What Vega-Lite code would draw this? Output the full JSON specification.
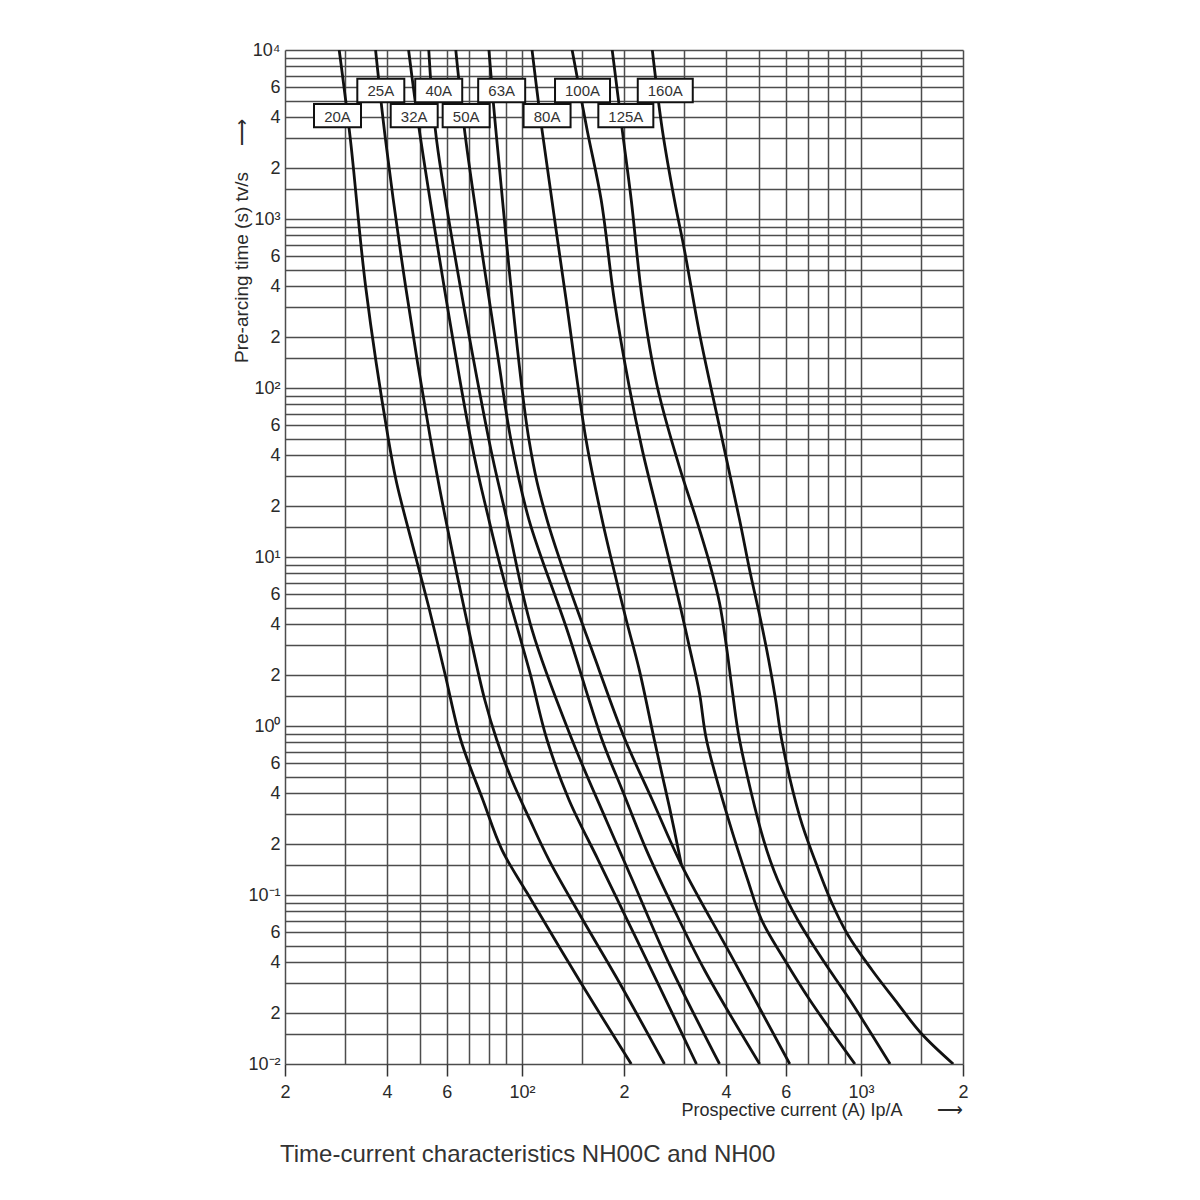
{
  "$schema": "https://vega.github.io/schema/vega-lite/v6.json",
  "width": 678,
  "height": 1014,
  "autosize": {"type": "none"},
  "padding": {"left": 285, "top": 50, "right": 237, "bottom": 136},
  "background": "white",
  "config": {
    "view": {"stroke": null},
    "font": "Liberation Sans",
    "axis": {"labelFont": "Liberation Sans", "titleFont": "Liberation Sans"}
  },
  "title": {
    "text": "Time-current characteristics NH00C and NH00",
    "orient": "bottom",
    "anchor": "start",
    "frame": "group",
    "offset": 24,
    "dx": -5,
    "fontSize": 24,
    "fontWeight": "normal",
    "color": "#333333",
    "font": "Liberation Sans"
  },
  "datasets": {
    "curves": [
      {"fuse": "20A", "current": 28.9, "time": 10000},
      {"fuse": "20A", "current": 31.2, "time": 2931},
      {"fuse": "20A", "current": 34.6, "time": 396},
      {"fuse": "20A", "current": 40.4, "time": 49.2},
      {"fuse": "20A", "current": 42.7, "time": 27.4},
      {"fuse": "20A", "current": 48.6, "time": 10},
      {"fuse": "20A", "current": 53.1, "time": 5.06},
      {"fuse": "20A", "current": 59.2, "time": 2.06},
      {"fuse": "20A", "current": 66.0, "time": 0.826},
      {"fuse": "20A", "current": 76.7, "time": 0.365},
      {"fuse": "20A", "current": 87.3, "time": 0.185},
      {"fuse": "20A", "current": 103.5, "time": 0.103},
      {"fuse": "20A", "current": 147.5, "time": 0.0314},
      {"fuse": "20A", "current": 210.1, "time": 0.01},

      {"fuse": "25A", "current": 37.0, "time": 10000},
      {"fuse": "25A", "current": 39.6, "time": 2931},
      {"fuse": "25A", "current": 45.4, "time": 396},
      {"fuse": "25A", "current": 53.8, "time": 49.2},
      {"fuse": "25A", "current": 59.6, "time": 16.6},
      {"fuse": "25A", "current": 69.7, "time": 3.70},
      {"fuse": "25A", "current": 77.7, "time": 1.425},
      {"fuse": "25A", "current": 84.3, "time": 0.826},
      {"fuse": "25A", "current": 93.4, "time": 0.479},
      {"fuse": "25A", "current": 105.6, "time": 0.278},
      {"fuse": "25A", "current": 120.2, "time": 0.161},
      {"fuse": "25A", "current": 149.5, "time": 0.0741},
      {"fuse": "25A", "current": 189.7, "time": 0.0327},
      {"fuse": "25A", "current": 263.2, "time": 0.01},

      {"fuse": "32A", "current": 46.3, "time": 10000},
      {"fuse": "32A", "current": 50.3, "time": 2931},
      {"fuse": "32A", "current": 70.7, "time": 49.2},
      {"fuse": "32A", "current": 79.9, "time": 16.6},
      {"fuse": "32A", "current": 88.5, "time": 7.31},
      {"fuse": "32A", "current": 97.3, "time": 3.70},
      {"fuse": "32A", "current": 105.6, "time": 2.06},
      {"fuse": "32A", "current": 118.6, "time": 0.826},
      {"fuse": "32A", "current": 137.7, "time": 0.365},
      {"fuse": "32A", "current": 167.9, "time": 0.161},
      {"fuse": "32A", "current": 204.5, "time": 0.0711},
      {"fuse": "32A", "current": 249.1, "time": 0.0314},
      {"fuse": "32A", "current": 327.2, "time": 0.01},

      {"fuse": "40A", "current": 53.1, "time": 10000},
      {"fuse": "40A", "current": 56.0, "time": 2931},
      {"fuse": "40A", "current": 79.9, "time": 49.2},
      {"fuse": "40A", "current": 90.3, "time": 16.6},
      {"fuse": "40A", "current": 107.1, "time": 3.70},
      {"fuse": "40A", "current": 140.6, "time": 0.826},
      {"fuse": "40A", "current": 177.2, "time": 0.278},
      {"fuse": "40A", "current": 211.6, "time": 0.123},
      {"fuse": "40A", "current": 268.5, "time": 0.0412},
      {"fuse": "40A", "current": 382.7, "time": 0.01},

      {"fuse": "50A", "current": 63.8, "time": 10000},
      {"fuse": "50A", "current": 68.3, "time": 2931},
      {"fuse": "50A", "current": 85.5, "time": 140.6},
      {"fuse": "50A", "current": 92.8, "time": 49.2},
      {"fuse": "50A", "current": 104.9, "time": 16.6},
      {"fuse": "50A", "current": 135.9, "time": 3.70},
      {"fuse": "50A", "current": 172.4, "time": 0.826},
      {"fuse": "50A", "current": 197.6, "time": 0.418},
      {"fuse": "50A", "current": 232.8, "time": 0.185},
      {"fuse": "50A", "current": 281.7, "time": 0.0814},
      {"fuse": "50A", "current": 345.5, "time": 0.0360},
      {"fuse": "50A", "current": 502.5, "time": 0.01},

      {"fuse": "63A", "current": 79.9, "time": 10000},
      {"fuse": "63A", "current": 84.3, "time": 2931},
      {"fuse": "63A", "current": 104.9, "time": 49.2},
      {"fuse": "63A", "current": 118.6, "time": 16.6},
      {"fuse": "63A", "current": 169.0, "time": 2.14},
      {"fuse": "63A", "current": 201.7, "time": 0.826},
      {"fuse": "63A", "current": 242.4, "time": 0.365},
      {"fuse": "63A", "current": 295.4, "time": 0.151},
      {"fuse": "63A", "current": 421.0, "time": 0.0412},
      {"fuse": "63A", "current": 616.6, "time": 0.01},

      {"fuse": "80A", "current": 107.1, "time": 10000},
      {"fuse": "80A", "current": 114.6, "time": 3365},
      {"fuse": "80A", "current": 135.0, "time": 332},
      {"fuse": "80A", "current": 154.6, "time": 49.2},
      {"fuse": "80A", "current": 172.4, "time": 16.6},
      {"fuse": "80A", "current": 184.6, "time": 9.21},
      {"fuse": "80A", "current": 203.1, "time": 4.24},
      {"fuse": "80A", "current": 222.0, "time": 2.14},
      {"fuse": "80A", "current": 245.8, "time": 0.826},
      {"fuse": "80A", "current": 272.2, "time": 0.332},
      {"fuse": "80A", "current": 295.4, "time": 0.151},

      {"fuse": "100A", "current": 140.6, "time": 10000},
      {"fuse": "100A", "current": 155.7, "time": 3365},
      {"fuse": "100A", "current": 171.3, "time": 1295},
      {"fuse": "100A", "current": 187.2, "time": 332},
      {"fuse": "100A", "current": 207.3, "time": 101.4},
      {"fuse": "100A", "current": 226.5, "time": 42.9},
      {"fuse": "100A", "current": 254.3, "time": 16.6},
      {"fuse": "100A", "current": 291.4, "time": 5.35},
      {"fuse": "100A", "current": 311.9, "time": 2.93},
      {"fuse": "100A", "current": 333.9, "time": 1.567},
      {"fuse": "100A", "current": 350.3, "time": 0.826},
      {"fuse": "100A", "current": 407.0, "time": 0.278},
      {"fuse": "100A", "current": 463.2, "time": 0.123},
      {"fuse": "100A", "current": 509.5, "time": 0.0711},
      {"fuse": "100A", "current": 595.8, "time": 0.0412},
      {"fuse": "100A", "current": 706.6, "time": 0.0239},
      {"fuse": "100A", "current": 959.9, "time": 0.01},

      {"fuse": "125A", "current": 184.6, "time": 10000},
      {"fuse": "125A", "current": 197.6, "time": 3365},
      {"fuse": "125A", "current": 210.1, "time": 1295},
      {"fuse": "125A", "current": 226.5, "time": 332},
      {"fuse": "125A", "current": 250.9, "time": 101.4},
      {"fuse": "125A", "current": 291.4, "time": 34.1},
      {"fuse": "125A", "current": 327.2, "time": 16.6},
      {"fuse": "125A", "current": 357.5, "time": 9.21},
      {"fuse": "125A", "current": 382.7, "time": 5.35},
      {"fuse": "125A", "current": 401.3, "time": 2.93},
      {"fuse": "125A", "current": 418.2, "time": 1.567},
      {"fuse": "125A", "current": 438.5, "time": 0.826},
      {"fuse": "125A", "current": 516.4, "time": 0.211},
      {"fuse": "125A", "current": 568.1, "time": 0.1227},
      {"fuse": "125A", "current": 651.0, "time": 0.0711},
      {"fuse": "125A", "current": 772.0, "time": 0.0412},
      {"fuse": "125A", "current": 928.0, "time": 0.0239},
      {"fuse": "125A", "current": 1218.6, "time": 0.01},

      {"fuse": "160A", "current": 242.4, "time": 10000},
      {"fuse": "160A", "current": 259.5, "time": 3365},
      {"fuse": "160A", "current": 281.7, "time": 1295},
      {"fuse": "160A", "current": 301.5, "time": 656},
      {"fuse": "160A", "current": 333.9, "time": 211},
      {"fuse": "160A", "current": 382.7, "time": 58.7},
      {"fuse": "160A", "current": 438.5, "time": 16.6},
      {"fuse": "160A", "current": 469.5, "time": 8.38},
      {"fuse": "160A", "current": 506.0, "time": 4.24},
      {"fuse": "160A", "current": 534.3, "time": 2.46},
      {"fuse": "160A", "current": 560.4, "time": 1.425},
      {"fuse": "160A", "current": 583.8, "time": 0.826},
      {"fuse": "160A", "current": 660.1, "time": 0.290},
      {"fuse": "160A", "current": 731.1, "time": 0.161},
      {"fuse": "160A", "current": 820.6, "time": 0.0897},
      {"fuse": "160A", "current": 915.4, "time": 0.0580},
      {"fuse": "160A", "current": 1077.7, "time": 0.0360},
      {"fuse": "160A", "current": 1260.6, "time": 0.0239},
      {"fuse": "160A", "current": 1504.7, "time": 0.0152},
      {"fuse": "160A", "current": 1871.6, "time": 0.01}
    ],
    "labels": [
      {"label": "20A", "current": 28.57, "time": 4086},
      {"label": "25A", "current": 38.34, "time": 5760},
      {"label": "32A", "current": 48.10, "time": 4086},
      {"label": "40A", "current": 56.82, "time": 5760},
      {"label": "50A", "current": 68.46, "time": 4086},
      {"label": "63A", "current": 87.14, "time": 5760},
      {"label": "80A", "current": 118.6, "time": 4086},
      {"label": "100A", "current": 150.9, "time": 5760},
      {"label": "125A", "current": 202.5, "time": 4086},
      {"label": "160A", "current": 264.7, "time": 5760}
    ]
  },
  "layer": [
    {
      "data": {"name": "curves"},
      "mark": {"type": "line", "color": "#111111", "strokeWidth": 2.8, "interpolate": "catmull-rom", "clip": true},
      "encoding": {
        "x": {
          "field": "current", "type": "quantitative",
          "scale": {"type": "log", "domain": [20, 2000], "nice": false},
          "axis": {
            "orient": "bottom",
            "values": [20,30,40,50,60,70,80,90,100,150,200,300,400,500,600,700,800,900,1000,1500,2000],
            "grid": true, "gridColor": "#4d4d4d", "gridWidth": 1.5,
            "domain": false,
            "ticks": true, "tickSize": 12, "tickColor": "#333333", "tickWidth": 1.5,
            "tickOpacity": {"condition": {"test": "indexof([20,40,60,100,200,400,600,1000,2000], datum.value) >= 0", "value": 1}, "value": 0},
            "labelExpr": "indexof([20,40,60,100,200,400,600,1000,2000], datum.value) < 0 ? '' : datum.value == 100 ? '10²' : datum.value == 1000 ? '10³' : format(datum.value / pow(10, floor(log(datum.value) / LN10 + 0.001)), '.0f')",
            "labelFontSize": 18, "labelColor": "#2a2a2a", "labelPadding": 7,
            "labelFlush": false, "labelOverlap": false, "labelBound": false,
            "title": "Prospective current (A) Ip/A\u00a0\u00a0\u00a0\u00a0\u00a0\u00a0\u00a0⟶",
            "titleX": 678, "titleY": 51, "titleAnchor": "end", "titleAlign": "right", "titleBaseline": "alphabetic",
            "titleFontSize": 18, "titleFontWeight": "normal", "titleColor": "#2a2a2a"
          }
        },
        "y": {
          "field": "time", "type": "quantitative",
          "scale": {"type": "log", "domain": [0.01, 10000], "nice": false},
          "axis": {
            "orient": "left",
            "values": [0.01,0.015,0.02,0.03,0.04,0.05,0.06,0.07,0.08,0.09,0.1,0.15,0.2,0.3,0.4,0.5,0.6,0.7,0.8,0.9,1,1.5,2,3,4,5,6,7,8,9,10,15,20,30,40,50,60,70,80,90,100,150,200,300,400,500,600,700,800,900,1000,1500,2000,3000,4000,5000,6000,7000,8000,9000,10000],
            "grid": true, "gridColor": "#4d4d4d", "gridWidth": 1.5,
            "domain": false, "ticks": false,
            "labelExpr": "indexof([0.01,0.02,0.04,0.06,0.1,0.2,0.4,0.6,1,2,4,6,10,20,40,60,100,200,400,600,1000,2000,4000,6000,10000], datum.value) < 0 ? '' : (abs(log(datum.value) / LN10 - round(log(datum.value) / LN10)) < 0.001 ? '10' + ['⁻²','⁻¹','⁰','¹','²','³','⁴'][round(log(datum.value) / LN10) + 2] : format(datum.value / pow(10, floor(log(datum.value) / LN10 + 0.001)), '.0f'))",
            "labelFontSize": 18, "labelColor": "#2a2a2a", "labelPadding": 5,
            "labelFlush": false, "labelOverlap": false, "labelBound": false,
            "title": "Pre-arcing time (s) tv/s\u00a0\u00a0\u00a0\u00a0\u00a0⟶",
            "titleX": -44, "titleY": 68, "titleAngle": -90, "titleAlign": "right", "titleBaseline": "middle",
            "titleFontSize": 19, "titleFontWeight": "normal", "titleColor": "#2a2a2a"
          }
        },
        "detail": {"field": "fuse"},
        "order": {"field": "time", "sort": "descending"}
      }
    },
    {
      "data": {"name": "labels"},
      "transform": [{"filter": "length(datum.label) == 3"}],
      "mark": {"type": "point", "shape": "M-1,-0.496H1V0.496H-1Z", "size": 2209, "filled": true, "fill": "white", "stroke": "#111111", "strokeWidth": 2, "opacity": 1},
      "encoding": {
        "x": {"field": "current", "type": "quantitative"},
        "y": {"field": "time", "type": "quantitative"}
      }
    },
    {
      "data": {"name": "labels"},
      "transform": [{"filter": "length(datum.label) == 4"}],
      "mark": {"type": "point", "shape": "M-1,-0.424H1V0.424H-1Z", "size": 3025, "filled": true, "fill": "white", "stroke": "#111111", "strokeWidth": 2, "opacity": 1},
      "encoding": {
        "x": {"field": "current", "type": "quantitative"},
        "y": {"field": "time", "type": "quantitative"}
      }
    },
    {
      "data": {"name": "labels"},
      "mark": {"type": "text", "fontSize": 15, "color": "#333333", "font": "Liberation Sans", "align": "center", "baseline": "middle", "dy": 1},
      "encoding": {
        "x": {"field": "current", "type": "quantitative"},
        "y": {"field": "time", "type": "quantitative"},
        "text": {"field": "label"}
      }
    }
  ]
}
